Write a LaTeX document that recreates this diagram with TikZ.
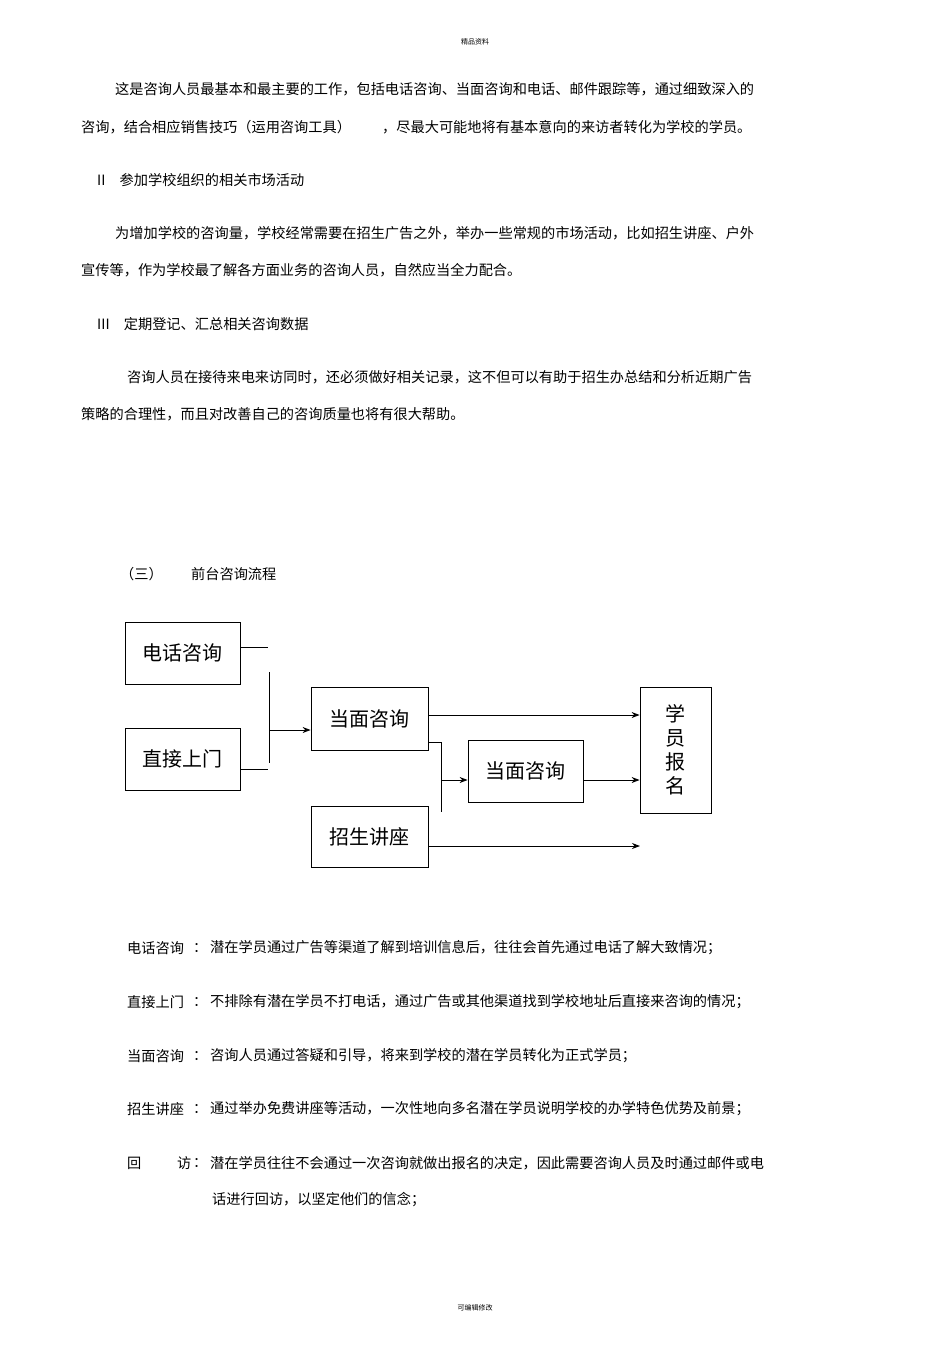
\documentclass[tikz,border=0pt]{standalone}
\usepackage{fontspec}
\setmainfont{Noto Sans CJK SC}
\usetikzlibrary{arrows.meta}
\begin{document}
\begin{tikzpicture}[x=1pt,y=-1pt,
  txt/.style={anchor=west,inner sep=0pt,font=\fontsize{14.2}{16}\selectfont},
  box/.style={draw,line width=0.8pt,inner sep=0pt,font=\fontsize{20}{22}\selectfont},
  ln/.style={line width=0.9pt},
  arr/.style={line width=0.9pt,-{Stealth[length=8pt,width=6pt]}}]
\useasboundingbox (0,0) rectangle (950,1345);
\node[inner sep=0pt,font=\fontsize{7}{8}\selectfont] (hdr) at (475,42) {精品资料};
\node[txt] (p1) at (115,89) {这是咨询人员最基本和最主要的工作，包括电话咨询、当面咨询和电话、邮件跟踪等，通过细致深入的};
\node[txt] (p2) at (81,127) {咨询，结合相应销售技巧（运用咨询工具）\hspace{2.2em}，尽最大可能地将有基本意向的来访者转化为学校的学员。};
\node[txt] (h2) at (97,180) {II\hspace{1em}参加学校组织的相关市场活动};
\node[txt] (p3) at (115,233) {为增加学校的咨询量，学校经常需要在招生广告之外，举办一些常规的市场活动，比如招生讲座、户外};
\node[txt] (p4) at (81,270) {宣传等，作为学校最了解各方面业务的咨询人员，自然应当全力配合。};
\node[txt] (h3) at (97,324) {III\hspace{1em}定期登记、汇总相关咨询数据};
\node[txt] (p5) at (127,377) {咨询人员在接待来电来访同时，还必须做好相关记录，这不但可以有助于招生办总结和分析近期广告};
\node[txt] (p6) at (81,414) {策略的合理性，而且对改善自己的咨询质量也将有很大帮助。};
\node[txt] (h4) at (120,574) {（三）\hspace{2em}前台咨询流程};
% diagram
\node[box,minimum width=115,minimum height=62] (dh) at (182.5,653) {电话咨询};
\node[box,minimum width=115,minimum height=62] (zj) at (182.5,759) {直接上门};
\node[box,minimum width=117,minimum height=63] (dm1) at (369.5,718.5) {当面咨询};
\node[box,minimum width=115,minimum height=62] (dm2) at (525.5,771) {当面咨询};
\node[box,minimum width=117,minimum height=61] (zs) at (369.5,836.5) {招生讲座};
\node[box,minimum width=71,minimum height=126,align=center,font=\fontsize{20}{24}\selectfont] (bm) at (675.5,750) {学\\员\\报\\名};
\coordinate (a1) at (268,647);
\coordinate (v1) at (269,672);
\coordinate (v2) at (269,763);
\coordinate (a2) at (268,769);
\coordinate (j1) at (269,730);
\coordinate (b1) at (441,742);
\coordinate (b2) at (441,812);
\coordinate (j2) at (441,780);
\coordinate (e3) at (640,846);
\draw[ln] (dh.east |- a1) -- (a1);
\draw[ln] (v1) -- (v2);
\draw[ln] (zj.east |- a2) -- (a2);
\draw[arr] (j1) -- (dm1.west |- j1);
\draw[arr] (dm1.east |- 0,715) -- (bm.west |- 0,715);
\draw[ln] (dm1.east |- b1) -- (b1) -- (b2);
\draw[arr] (j2) -- (dm2.west |- j2);
\draw[arr] (dm2.east |- j2) -- (bm.west |- j2);
\draw[arr] (zs.east |- e3) -- (e3);
% definitions
\node[txt] (d1) at (127,948) {电话咨询};
\node[txt] (c1) at (193,948) {：};
\node[txt] (t1) at (210,948) {潜在学员通过广告等渠道了解到培训信息后，往往会首先通过电话了解大致情况；};
\node[txt] (d2) at (127,1002) {直接上门};
\node[txt] (c2) at (193,1002) {：};
\node[txt] (t2) at (210,1002) {不排除有潜在学员不打电话，通过广告或其他渠道找到学校地址后直接来咨询的情况；};
\node[txt] (d3) at (127,1056) {当面咨询};
\node[txt] (c3) at (193,1056) {：};
\node[txt] (t3) at (210,1056) {咨询人员通过答疑和引导，将来到学校的潜在学员转化为正式学员；};
\node[txt] (d4) at (127,1109) {招生讲座};
\node[txt] (c4) at (193,1109) {：};
\node[txt] (t4) at (210,1109) {通过举办免费讲座等活动，一次性地向多名潜在学员说明学校的办学特色优势及前景；};
\node[txt] (d5) at (127,1163) {回};
\node[txt] (d5b) at (177,1163) {访};
\node[txt] (c5) at (193,1163) {：};
\node[txt] (t5) at (210,1163) {潜在学员往往不会通过一次咨询就做出报名的决定，因此需要咨询人员及时通过邮件或电};
\node[txt] (t6) at (212,1200) {话进行回访，以坚定他们的信念；};
\node[inner sep=0pt,font=\fontsize{7}{8}\selectfont] (ftr) at (475,1308) {可编辑修改};
\end{tikzpicture}
\end{document}
